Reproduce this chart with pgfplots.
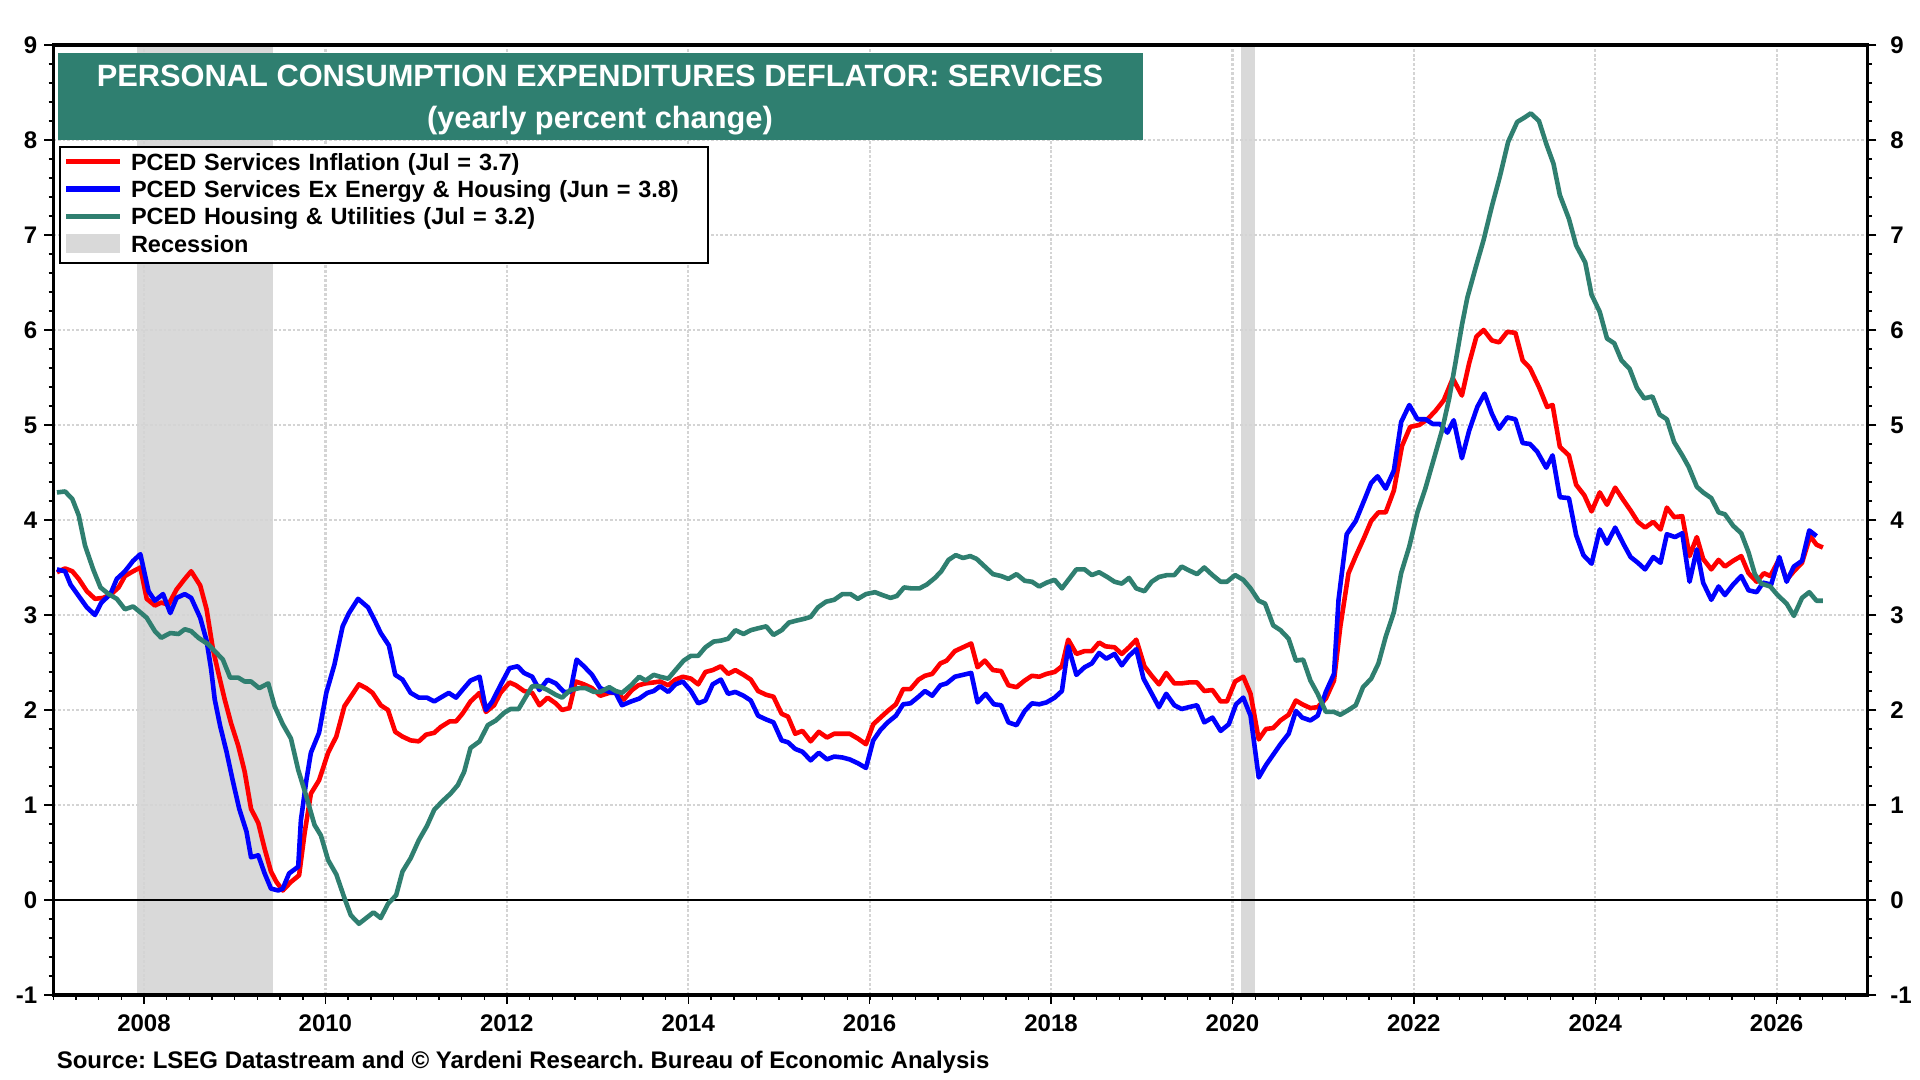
\documentclass[border=0pt]{standalone}
\usepackage{fontspec}
\setmainfont{Liberation Sans}
\usepackage{pgfplots}
\pgfplotsset{compat=1.18}
\frenchspacing
\definecolor{pcteal}{RGB}{47,127,112}
\definecolor{recgray}{RGB}{217,217,217}
\definecolor{gridgray}{RGB}{212,212,212}
\definecolor{pcred}{RGB}{255,0,0}
\definecolor{pcblue}{RGB}{0,0,255}

\pgfplotsset{
  commonax/.style={
    at={(26.65pt,42.5pt)}, anchor=south west,
    width=907pt, height=475pt, scale only axis,
    xmin=2007, xmax=2027, ymin=-1, ymax=9,
    ytick={-1,0,...,9},
    ticklabel style={font=\bfseries\fontsize{12}{14}\selectfont},
    /pgf/number format/assume math mode=true,
    /pgf/number format/1000 sep={},
  }
}

\begin{document}
\begin{tikzpicture}
\begin{axis}[commonax, set layers,
  xtick={2008,2010,...,2026},
  minor xtick={2007,2007.25,...,2027},
  minor ytick={-1,-0.8,...,9},
  xtick pos=bottom, ytick pos=both, yticklabel pos=left,
  tick align=outside,
  major tick length=4.5pt, minor tick length=2.4pt,
  tick style={black, line width=0.7pt},
  grid=major,
  major grid style={gridgray, line width=1.1pt, dash pattern=on 1.35pt off 0.95pt},
  axis line style={line width=1.6pt},
  xticklabel style={yshift=-1.6pt},
]
\addplot[fill=recgray, draw=none, on layer=axis background, forget plot] coordinates {(2007.92,-1) (2007.92,9) (2009.42,9) (2009.42,-1)} --cycle;
\addplot[fill=recgray, draw=none, on layer=axis background, forget plot] coordinates {(2020.09,-1) (2020.09,9) (2020.25,9) (2020.25,-1)} --cycle;
\draw[black, line width=0.6pt] (axis cs:2007,0) -- (axis cs:2027,0);

\addplot[pcred, line width=2.3pt, line join=round] coordinates {
(2007.04,3.45)(2007.13,3.49)(2007.21,3.46)(2007.28,3.38)(2007.37,3.25)(2007.46,3.17)(2007.55,3.18)(2007.64,3.22)(2007.72,3.29)(2007.79,3.41)(2007.88,3.46)(2007.96,3.50)(2008.03,3.17)(2008.12,3.10)(2008.19,3.13)(2008.27,3.11)(2008.36,3.27)(2008.45,3.38)(2008.52,3.46)(2008.62,3.31)(2008.69,3.06)(2008.76,2.64)(2008.82,2.39)(2008.89,2.11)(2008.96,1.86)(2009.04,1.62)(2009.11,1.35)(2009.18,0.96)(2009.26,0.81)(2009.33,0.54)(2009.40,0.30)(2009.46,0.19)(2009.53,0.10)(2009.62,0.19)(2009.71,0.26)(2009.77,0.70)(2009.84,1.12)(2009.93,1.26)(2010.03,1.55)(2010.12,1.72)(2010.21,2.04)(2010.28,2.14)(2010.37,2.27)(2010.45,2.23)(2010.52,2.18)(2010.61,2.05)(2010.69,2.00)(2010.77,1.77)(2010.85,1.72)(2010.94,1.68)(2011.03,1.67)(2011.11,1.74)(2011.20,1.76)(2011.27,1.82)(2011.37,1.88)(2011.44,1.88)(2011.51,1.96)(2011.60,2.09)(2011.70,2.18)(2011.77,1.98)(2011.86,2.05)(2011.93,2.18)(2012.03,2.29)(2012.10,2.26)(2012.19,2.20)(2012.28,2.18)(2012.36,2.05)(2012.45,2.13)(2012.54,2.07)(2012.61,2.00)(2012.69,2.02)(2012.76,2.30)(2012.85,2.27)(2012.94,2.23)(2013.03,2.15)(2013.13,2.18)(2013.22,2.18)(2013.29,2.11)(2013.38,2.21)(2013.45,2.26)(2013.53,2.28)(2013.62,2.29)(2013.69,2.30)(2013.78,2.26)(2013.86,2.32)(2013.94,2.35)(2014.03,2.33)(2014.11,2.27)(2014.19,2.40)(2014.27,2.42)(2014.36,2.46)(2014.44,2.38)(2014.52,2.42)(2014.61,2.37)(2014.69,2.32)(2014.77,2.20)(2014.86,2.16)(2014.94,2.14)(2015.03,1.96)(2015.10,1.93)(2015.18,1.75)(2015.26,1.78)(2015.35,1.67)(2015.44,1.77)(2015.53,1.71)(2015.61,1.75)(2015.70,1.75)(2015.78,1.75)(2015.87,1.70)(2015.96,1.64)(2016.04,1.85)(2016.12,1.92)(2016.20,1.99)(2016.29,2.06)(2016.37,2.22)(2016.45,2.22)(2016.54,2.32)(2016.61,2.36)(2016.69,2.38)(2016.78,2.49)(2016.85,2.52)(2016.94,2.62)(2017.03,2.66)(2017.12,2.70)(2017.19,2.45)(2017.27,2.52)(2017.36,2.42)(2017.45,2.41)(2017.53,2.26)(2017.62,2.24)(2017.71,2.31)(2017.79,2.36)(2017.87,2.35)(2017.95,2.38)(2018.04,2.40)(2018.12,2.46)(2018.19,2.74)(2018.28,2.59)(2018.37,2.62)(2018.45,2.62)(2018.53,2.71)(2018.60,2.67)(2018.70,2.66)(2018.78,2.59)(2018.86,2.66)(2018.94,2.74)(2019.03,2.46)(2019.11,2.36)(2019.19,2.27)(2019.27,2.39)(2019.36,2.28)(2019.44,2.28)(2019.52,2.29)(2019.61,2.29)(2019.69,2.20)(2019.78,2.21)(2019.87,2.09)(2019.94,2.09)(2020.03,2.30)(2020.12,2.35)(2020.20,2.17)(2020.29,1.69)(2020.37,1.80)(2020.45,1.81)(2020.53,1.89)(2020.62,1.95)(2020.70,2.10)(2020.77,2.06)(2020.86,2.02)(2020.94,2.03)(2021.03,2.12)(2021.12,2.31)(2021.19,2.88)(2021.28,3.44)(2021.36,3.62)(2021.45,3.81)(2021.53,3.99)(2021.61,4.08)(2021.69,4.08)(2021.78,4.31)(2021.87,4.78)(2021.96,4.98)(2022.06,5.00)(2022.15,5.06)(2022.24,5.15)(2022.33,5.26)(2022.43,5.49)(2022.53,5.31)(2022.61,5.65)(2022.69,5.93)(2022.77,6.00)(2022.86,5.89)(2022.94,5.87)(2023.03,5.98)(2023.12,5.97)(2023.20,5.68)(2023.28,5.60)(2023.38,5.40)(2023.47,5.19)(2023.53,5.21)(2023.61,4.77)(2023.71,4.68)(2023.79,4.37)(2023.88,4.26)(2023.96,4.09)(2024.05,4.29)(2024.13,4.16)(2024.22,4.34)(2024.31,4.21)(2024.39,4.10)(2024.47,3.98)(2024.55,3.92)(2024.64,3.98)(2024.72,3.90)(2024.79,4.13)(2024.87,4.03)(2024.96,4.04)(2025.04,3.62)(2025.12,3.82)(2025.19,3.59)(2025.28,3.48)(2025.36,3.58)(2025.43,3.51)(2025.52,3.57)(2025.61,3.62)(2025.69,3.44)(2025.78,3.35)(2025.86,3.44)(2025.93,3.41)(2026.03,3.59)(2026.11,3.37)(2026.19,3.46)(2026.28,3.55)(2026.37,3.83)(2026.44,3.74)(2026.51,3.71)
};

\addplot[pcblue, line width=2.3pt, line join=round] coordinates {
(2007.04,3.48)(2007.13,3.46)(2007.19,3.32)(2007.28,3.20)(2007.37,3.08)(2007.46,3.00)(2007.53,3.13)(2007.63,3.22)(2007.70,3.38)(2007.79,3.46)(2007.88,3.57)(2007.96,3.64)(2008.05,3.25)(2008.12,3.15)(2008.21,3.22)(2008.29,3.02)(2008.36,3.18)(2008.45,3.22)(2008.52,3.18)(2008.62,2.97)(2008.69,2.73)(2008.74,2.43)(2008.78,2.11)(2008.84,1.83)(2008.91,1.56)(2008.98,1.25)(2009.05,0.96)(2009.13,0.72)(2009.18,0.45)(2009.26,0.47)(2009.33,0.28)(2009.40,0.12)(2009.48,0.10)(2009.53,0.12)(2009.60,0.28)(2009.70,0.35)(2009.73,0.84)(2009.79,1.26)(2009.84,1.55)(2009.93,1.76)(2010.01,2.18)(2010.10,2.48)(2010.19,2.88)(2010.26,3.02)(2010.36,3.17)(2010.47,3.08)(2010.54,2.95)(2010.61,2.81)(2010.70,2.68)(2010.77,2.37)(2010.85,2.32)(2010.94,2.18)(2011.03,2.13)(2011.12,2.13)(2011.20,2.09)(2011.27,2.13)(2011.36,2.18)(2011.44,2.13)(2011.51,2.21)(2011.60,2.31)(2011.70,2.35)(2011.77,2.00)(2011.84,2.09)(2011.93,2.26)(2012.03,2.44)(2012.12,2.46)(2012.19,2.39)(2012.28,2.35)(2012.36,2.21)(2012.45,2.32)(2012.54,2.28)(2012.63,2.19)(2012.70,2.19)(2012.77,2.53)(2012.85,2.46)(2012.94,2.37)(2013.03,2.23)(2013.13,2.19)(2013.20,2.18)(2013.27,2.05)(2013.37,2.09)(2013.46,2.12)(2013.55,2.18)(2013.62,2.20)(2013.69,2.25)(2013.78,2.19)(2013.86,2.27)(2013.94,2.30)(2014.03,2.20)(2014.11,2.07)(2014.19,2.10)(2014.27,2.27)(2014.36,2.32)(2014.44,2.17)(2014.52,2.19)(2014.61,2.15)(2014.69,2.10)(2014.77,1.94)(2014.86,1.90)(2014.94,1.87)(2015.03,1.68)(2015.10,1.66)(2015.18,1.59)(2015.26,1.56)(2015.35,1.47)(2015.44,1.55)(2015.53,1.48)(2015.61,1.51)(2015.70,1.50)(2015.78,1.48)(2015.87,1.44)(2015.96,1.39)(2016.04,1.68)(2016.12,1.79)(2016.20,1.87)(2016.29,1.94)(2016.37,2.06)(2016.45,2.07)(2016.54,2.14)(2016.61,2.20)(2016.69,2.15)(2016.78,2.26)(2016.85,2.28)(2016.94,2.35)(2017.03,2.37)(2017.12,2.39)(2017.19,2.08)(2017.28,2.17)(2017.37,2.06)(2017.45,2.05)(2017.53,1.87)(2017.62,1.84)(2017.71,1.99)(2017.79,2.07)(2017.87,2.06)(2017.95,2.08)(2018.04,2.13)(2018.12,2.20)(2018.19,2.67)(2018.28,2.37)(2018.37,2.45)(2018.45,2.49)(2018.53,2.60)(2018.61,2.54)(2018.70,2.59)(2018.78,2.47)(2018.86,2.57)(2018.94,2.64)(2019.02,2.33)(2019.10,2.19)(2019.19,2.03)(2019.27,2.17)(2019.36,2.05)(2019.44,2.01)(2019.52,2.03)(2019.61,2.05)(2019.69,1.87)(2019.78,1.92)(2019.87,1.78)(2019.96,1.85)(2020.04,2.06)(2020.12,2.13)(2020.20,1.94)(2020.29,1.29)(2020.37,1.42)(2020.45,1.53)(2020.53,1.64)(2020.62,1.75)(2020.70,1.99)(2020.77,1.92)(2020.86,1.89)(2020.94,1.94)(2021.03,2.19)(2021.12,2.38)(2021.17,3.16)(2021.26,3.85)(2021.36,3.99)(2021.45,4.20)(2021.53,4.39)(2021.60,4.46)(2021.69,4.33)(2021.78,4.52)(2021.86,5.03)(2021.95,5.21)(2022.04,5.06)(2022.13,5.06)(2022.21,5.01)(2022.29,5.01)(2022.37,4.92)(2022.44,5.05)(2022.53,4.65)(2022.61,4.94)(2022.70,5.19)(2022.78,5.33)(2022.86,5.12)(2022.94,4.96)(2023.03,5.08)(2023.12,5.06)(2023.20,4.81)(2023.28,4.80)(2023.36,4.72)(2023.46,4.55)(2023.53,4.68)(2023.61,4.24)(2023.71,4.23)(2023.79,3.84)(2023.87,3.63)(2023.96,3.54)(2024.05,3.90)(2024.13,3.75)(2024.22,3.92)(2024.31,3.75)(2024.39,3.61)(2024.47,3.55)(2024.55,3.48)(2024.64,3.61)(2024.72,3.55)(2024.79,3.85)(2024.88,3.82)(2024.96,3.86)(2025.04,3.35)(2025.12,3.69)(2025.19,3.34)(2025.28,3.16)(2025.36,3.30)(2025.43,3.21)(2025.52,3.32)(2025.61,3.41)(2025.69,3.26)(2025.78,3.24)(2025.85,3.34)(2025.94,3.32)(2026.03,3.61)(2026.11,3.35)(2026.19,3.51)(2026.28,3.57)(2026.36,3.89)(2026.44,3.83)
};

\addplot[pcteal, line width=2.3pt, line join=round] coordinates {
(2007.04,4.29)(2007.13,4.30)(2007.21,4.22)(2007.28,4.05)(2007.35,3.73)(2007.44,3.48)(2007.52,3.29)(2007.61,3.22)(2007.70,3.17)(2007.79,3.06)(2007.88,3.09)(2007.97,3.02)(2008.03,2.97)(2008.12,2.83)(2008.19,2.76)(2008.29,2.81)(2008.38,2.80)(2008.45,2.85)(2008.52,2.83)(2008.60,2.76)(2008.71,2.69)(2008.80,2.60)(2008.87,2.53)(2008.95,2.34)(2009.04,2.34)(2009.11,2.30)(2009.18,2.30)(2009.27,2.23)(2009.37,2.28)(2009.44,2.04)(2009.53,1.85)(2009.62,1.70)(2009.70,1.37)(2009.79,1.09)(2009.88,0.79)(2009.95,0.68)(2010.03,0.42)(2010.12,0.27)(2010.21,0.02)(2010.28,-0.16)(2010.37,-0.25)(2010.45,-0.19)(2010.53,-0.13)(2010.61,-0.19)(2010.69,-0.04)(2010.78,0.05)(2010.85,0.30)(2010.94,0.44)(2011.03,0.63)(2011.12,0.78)(2011.20,0.95)(2011.29,1.04)(2011.38,1.12)(2011.46,1.21)(2011.53,1.35)(2011.60,1.60)(2011.70,1.67)(2011.79,1.84)(2011.88,1.89)(2011.97,1.97)(2012.04,2.01)(2012.13,2.01)(2012.21,2.14)(2012.28,2.25)(2012.36,2.25)(2012.45,2.21)(2012.54,2.16)(2012.61,2.13)(2012.70,2.21)(2012.80,2.23)(2012.87,2.23)(2012.96,2.19)(2013.03,2.19)(2013.13,2.24)(2013.20,2.20)(2013.27,2.18)(2013.37,2.26)(2013.46,2.35)(2013.53,2.31)(2013.62,2.37)(2013.69,2.35)(2013.78,2.33)(2013.86,2.42)(2013.95,2.52)(2014.03,2.57)(2014.11,2.57)(2014.19,2.66)(2014.28,2.72)(2014.36,2.73)(2014.44,2.75)(2014.52,2.84)(2014.61,2.80)(2014.69,2.84)(2014.77,2.86)(2014.86,2.88)(2014.94,2.79)(2015.03,2.84)(2015.11,2.92)(2015.19,2.94)(2015.28,2.96)(2015.35,2.98)(2015.43,3.08)(2015.52,3.14)(2015.61,3.16)(2015.70,3.22)(2015.79,3.22)(2015.87,3.17)(2015.96,3.22)(2016.06,3.24)(2016.14,3.21)(2016.23,3.18)(2016.30,3.20)(2016.38,3.29)(2016.46,3.28)(2016.55,3.28)(2016.63,3.32)(2016.72,3.39)(2016.79,3.46)(2016.87,3.58)(2016.95,3.63)(2017.03,3.60)(2017.11,3.62)(2017.18,3.59)(2017.27,3.51)(2017.36,3.43)(2017.45,3.41)(2017.53,3.38)(2017.62,3.43)(2017.71,3.36)(2017.79,3.35)(2017.87,3.30)(2017.95,3.34)(2018.04,3.37)(2018.12,3.28)(2018.20,3.38)(2018.28,3.48)(2018.37,3.48)(2018.45,3.42)(2018.53,3.45)(2018.62,3.40)(2018.70,3.35)(2018.78,3.33)(2018.86,3.39)(2018.94,3.28)(2019.03,3.25)(2019.11,3.35)(2019.19,3.40)(2019.28,3.42)(2019.36,3.42)(2019.44,3.51)(2019.52,3.47)(2019.61,3.43)(2019.69,3.50)(2019.78,3.42)(2019.87,3.35)(2019.94,3.35)(2020.03,3.42)(2020.12,3.37)(2020.20,3.28)(2020.29,3.15)(2020.36,3.12)(2020.45,2.89)(2020.53,2.84)(2020.62,2.75)(2020.70,2.52)(2020.78,2.53)(2020.86,2.31)(2020.94,2.17)(2021.03,1.98)(2021.12,1.98)(2021.19,1.95)(2021.28,2.00)(2021.36,2.05)(2021.44,2.24)(2021.53,2.33)(2021.61,2.49)(2021.69,2.77)(2021.78,3.03)(2021.86,3.44)(2021.95,3.72)(2022.04,4.08)(2022.13,4.34)(2022.22,4.64)(2022.31,4.94)(2022.39,5.28)(2022.46,5.66)(2022.53,6.05)(2022.59,6.34)(2022.68,6.65)(2022.77,6.95)(2022.86,7.30)(2022.95,7.62)(2023.04,7.98)(2023.14,8.19)(2023.21,8.23)(2023.29,8.28)(2023.38,8.20)(2023.46,7.96)(2023.54,7.75)(2023.61,7.42)(2023.71,7.17)(2023.79,6.89)(2023.89,6.71)(2023.96,6.37)(2024.05,6.19)(2024.13,5.91)(2024.21,5.86)(2024.29,5.68)(2024.38,5.59)(2024.46,5.39)(2024.54,5.28)(2024.63,5.30)(2024.71,5.11)(2024.79,5.06)(2024.87,4.82)(2024.96,4.68)(2025.03,4.56)(2025.12,4.35)(2025.19,4.29)(2025.28,4.23)(2025.36,4.08)(2025.43,4.06)(2025.52,3.94)(2025.61,3.86)(2025.69,3.66)(2025.76,3.43)(2025.83,3.33)(2025.93,3.30)(2026.01,3.21)(2026.11,3.12)(2026.19,2.99)(2026.28,3.18)(2026.36,3.24)(2026.44,3.15)(2026.51,3.15)
};

\draw[black, line width=2.2pt] (rel axis cs:0,0) -- (rel axis cs:1,0);
\end{axis}

\begin{axis}[commonax, axis x line=none, axis y line*=right,
  yticklabel pos=right, major tick length=0pt, ytick style={draw=none},
  y axis line style={draw=none}, yticklabel style={xshift=8pt}]
\addplot[draw=none, forget plot] coordinates {(2010,0)};
\end{axis}

% title box
\fill[pcteal] (28.75pt,470.2pt) rectangle (571.25pt,513.65pt);
\node[text=white, font=\bfseries\fontsize{15.4}{18}\selectfont, anchor=base, inner sep=0pt] at (300pt,496.75pt) {PERSONAL CONSUMPTION EXPENDITURES DEFLATOR: SERVICES};
\node[text=white, font=\bfseries\fontsize{15.4}{18}\selectfont, anchor=base, inner sep=0pt] at (300pt,475.7pt) {(yearly percent change)};

% legend
\node[draw=black, line width=1.2pt, fill=white, anchor=north west, inner xsep=3pt, inner ysep=0pt, text width=318pt, align=left, font=\bfseries\fontsize{11.75}{13.7}\selectfont] at (29.4pt,467.15pt) {%
\rule{0pt}{11.65pt}\textcolor{pcred}{\rule[2.9pt]{27pt}{2.8pt}}\hspace{5.5pt}PCED Services Inflation (Jul = 3.7)\\
\textcolor{pcblue}{\rule[2.9pt]{27pt}{2.8pt}}\hspace{5.5pt}PCED Services Ex Energy \& Housing (Jun = 3.8)\\
\textcolor{pcteal}{\rule[2.9pt]{27pt}{2.8pt}}\hspace{5.5pt}PCED Housing \& Utilities (Jul = 3.2)\\
\textcolor{recgray}{\rule[-0.55pt]{27pt}{9.75pt}}\hspace{5.5pt}Recession\rule[-5.45pt]{0pt}{5.45pt}};

% source
\node[anchor=base west, font=\bfseries\fontsize{12}{14}\selectfont, inner sep=0pt] at (28.2pt,5.5pt) {Source: LSEG Datastream and © Yardeni Research. Bureau of Economic Analysis};

\pgfresetboundingbox
\path[use as bounding box] (0,0) rectangle (960pt,540pt);
\end{tikzpicture}
\end{document}
